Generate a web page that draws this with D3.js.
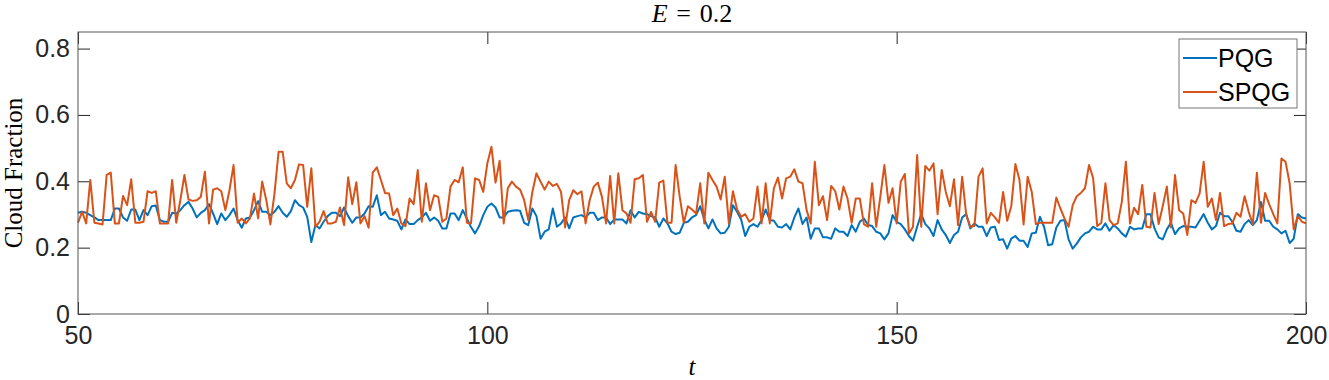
<!DOCTYPE html>
<html>
<head>
<meta charset="utf-8">
<script src="https://cdn.jsdelivr.net/npm/d3@7"></script>
<style>
  body { margin: 0; background: #fff; }
  svg { display: block; }
  .tick text { font-family: "Liberation Sans", Arial, sans-serif; font-size: 25px; fill: #262626; }
  .tick line { stroke: #262626; stroke-width: 1; }
</style>
</head>
<body>
<script>
var width = 1329,
    height = 380;

var margin = {top: 32, right: 23, bottom: 66, left: 78};

// time axis: t = 50, 50.5, ..., 200
var tStart = 50,
    tStep = 0.5;

var xTicks = [50, 100, 150, 200],
    yTicks = [0, 0.2, 0.4, 0.6, 0.8];

var seriesNames = ["PQG", "SPQG"],
    seriesColors = ["#0072BD", "#D95319"];

var pqg = [
  0.305,0.308,0.305,0.298,0.291,0.283,0.283,0.283,0.283,0.318,
  0.318,0.291,0.281,0.315,0.315,0.283,0.313,0.298,0.325,0.327,
  0.283,0.278,0.278,0.305,0.303,0.313,0.328,0.338,0.318,0.291,
  0.305,0.313,0.331,0.303,0.271,0.303,0.283,0.298,0.318,0.283,
  0.260,0.288,0.291,0.313,0.340,0.308,0.308,0.298,0.308,0.325,
  0.305,0.293,0.310,0.343,0.328,0.321,0.293,0.217,0.268,0.258,
  0.278,0.295,0.305,0.305,0.295,0.321,0.295,0.275,0.291,0.291,
  0.303,0.325,0.323,0.358,0.298,0.308,0.288,0.285,0.281,0.255,
  0.285,0.271,0.271,0.283,0.291,0.305,0.281,0.291,0.281,0.258,
  0.258,0.303,0.303,0.283,0.313,0.288,0.262,0.243,0.265,0.298,
  0.323,0.333,0.321,0.291,0.291,0.308,0.311,0.313,0.311,0.275,
  0.268,0.318,0.295,0.227,0.248,0.255,0.318,0.263,0.273,0.291,
  0.258,0.291,0.295,0.298,0.291,0.305,0.305,0.283,0.291,0.291,
  0.271,0.285,0.285,0.285,0.273,0.313,0.291,0.308,0.303,0.301,
  0.295,0.291,0.263,0.288,0.273,0.248,0.241,0.245,0.275,0.278,
  0.291,0.298,0.325,0.285,0.258,0.285,0.258,0.243,0.245,0.263,
  0.328,0.308,0.285,0.235,0.263,0.271,0.263,0.283,0.315,0.283,
  0.281,0.263,0.261,0.271,0.255,0.291,0.318,0.271,0.291,0.227,
  0.258,0.258,0.231,0.231,0.227,0.258,0.248,0.248,0.235,0.268,
  0.248,0.278,0.288,0.268,0.265,0.248,0.243,0.225,0.243,0.298,
  0.278,0.271,0.255,0.235,0.221,0.263,0.301,0.271,0.258,0.235,
  0.283,0.255,0.238,0.214,0.238,0.248,0.291,0.301,0.258,0.273,
  0.263,0.263,0.235,0.261,0.263,0.223,0.225,0.197,0.227,0.235,
  0.221,0.221,0.202,0.243,0.245,0.293,0.263,0.207,0.210,0.261,
  0.281,0.283,0.225,0.197,0.212,0.231,0.243,0.248,0.263,0.255,
  0.255,0.273,0.251,0.268,0.258,0.243,0.233,0.263,0.255,0.258,
  0.258,0.301,0.301,0.258,0.231,0.225,0.255,0.275,0.241,0.258,
  0.265,0.263,0.263,0.261,0.281,0.301,0.275,0.255,0.265,0.305,
  0.295,0.295,0.278,0.251,0.248,0.271,0.283,0.268,0.283,0.338,
  0.281,0.281,0.263,0.255,0.243,0.251,0.214,0.227,0.301,0.291,0.288
];

var spqg = [
  0.275,0.308,0.273,0.404,0.275,0.273,0.270,0.419,0.426,0.273,
  0.273,0.356,0.328,0.406,0.275,0.275,0.278,0.370,0.365,0.370,
  0.273,0.273,0.273,0.404,0.275,0.343,0.419,0.345,0.341,0.343,
  0.353,0.429,0.273,0.375,0.379,0.370,0.313,0.373,0.449,0.275,
  0.288,0.273,0.288,0.363,0.288,0.399,0.343,0.270,0.363,0.489,
  0.489,0.394,0.379,0.404,0.451,0.449,0.323,0.439,0.263,0.278,
  0.310,0.273,0.273,0.278,0.321,0.268,0.412,0.331,0.397,0.273,
  0.295,0.260,0.426,0.442,0.404,0.365,0.363,0.298,0.318,0.273,
  0.265,0.348,0.331,0.434,0.278,0.394,0.313,0.358,0.353,0.278,
  0.288,0.384,0.404,0.397,0.442,0.275,0.273,0.409,0.404,0.368,
  0.454,0.504,0.396,0.462,0.273,0.379,0.399,0.384,0.375,0.343,
  0.283,0.368,0.424,0.399,0.375,0.399,0.386,0.392,0.368,0.261,
  0.343,0.373,0.361,0.370,0.273,0.343,0.384,0.396,0.353,0.273,
  0.416,0.273,0.424,0.313,0.303,0.275,0.406,0.409,0.419,0.278,
  0.308,0.278,0.396,0.402,0.275,0.275,0.449,0.353,0.275,0.325,
  0.315,0.303,0.394,0.273,0.426,0.404,0.384,0.345,0.414,0.273,
  0.370,0.316,0.293,0.301,0.278,0.288,0.384,0.273,0.394,0.273,
  0.379,0.411,0.348,0.409,0.414,0.436,0.399,0.394,0.313,0.273,
  0.459,0.328,0.355,0.283,0.386,0.370,0.315,0.384,0.348,0.275,
  0.348,0.348,0.271,0.263,0.394,0.263,0.353,0.449,0.335,0.379,
  0.273,0.399,0.422,0.243,0.263,0.479,0.263,0.446,0.432,0.454,
  0.301,0.434,0.368,0.325,0.406,0.268,0.414,0.298,0.263,0.265,
  0.414,0.439,0.273,0.305,0.291,0.275,0.368,0.281,0.325,0.452,
  0.404,0.270,0.414,0.368,0.271,0.275,0.275,0.275,0.275,0.351,
  0.318,0.288,0.263,0.328,0.355,0.365,0.379,0.449,0.409,0.265,
  0.275,0.394,0.283,0.268,0.273,0.338,0.459,0.273,0.320,0.301,
  0.389,0.263,0.261,0.365,0.271,0.325,0.384,0.261,0.419,0.313,
  0.303,0.238,0.343,0.335,0.363,0.459,0.323,0.348,0.283,0.365,
  0.265,0.271,0.273,0.305,0.293,0.355,0.308,0.271,0.426,0.275,
  0.365,0.331,0.301,0.273,0.469,0.459,0.394,0.255,0.295,0.278,0.273
];

var series = [pqg, spqg];

var w = width - margin.left - margin.right,
    h = height - margin.top - margin.bottom;

var x = d3.scaleLinear().domain([50, 200]).range([0, w]);
var y = d3.scaleLinear().domain([0, 0.85]).range([h, 0]);

var svg = d3.select("body").append("svg")
    .attr("width", width)
    .attr("height", height);

var g = svg.append("g")
    .attr("transform", "translate(" + margin.left + "," + margin.top + ")");

// axes, ticks pointing inwards like matlab
var tickLen = 12;

g.append("g")
    .attr("transform", "translate(0," + h + ")")
    .call(d3.axisBottom(x).tickValues(xTicks).tickSizeInner(-tickLen).tickSizeOuter(0).tickPadding(12))
    .call(function(a) { a.select(".domain").remove(); });

g.append("g")
    .call(d3.axisTop(x).tickValues(xTicks).tickSizeInner(-tickLen).tickSizeOuter(0).tickFormat(""))
    .call(function(a) { a.select(".domain").remove(); });

g.append("g")
    .call(d3.axisLeft(y).tickValues(yTicks).tickSizeInner(-tickLen).tickSizeOuter(0).tickPadding(8)
      .tickFormat(function(d) { return String(d); }))
    .call(function(a) { a.select(".domain").remove(); });

g.append("g")
    .attr("transform", "translate(" + w + ",0)")
    .call(d3.axisRight(y).tickValues(yTicks).tickSizeInner(-tickLen).tickSizeOuter(0).tickFormat(""))
    .call(function(a) { a.select(".domain").remove(); });

var line = d3.line()
    .x(function(d, i) { return x(tStart + i * tStep); })
    .y(function(d) { return y(d); });

g.selectAll("path.series")
    .data(series)
  .enter().append("path")
    .attr("class", "series")
    .attr("d", line)
    .attr("fill", "none")
    .attr("stroke", function(d, i) { return seriesColors[i]; })
    .attr("stroke-width", 2)
    .attr("stroke-linejoin", "round");

// box
g.append("rect")
    .attr("width", w)
    .attr("height", h)
    .attr("fill", "none")
    .attr("stroke", "#555")
    .attr("stroke-width", 1);

// legend
var legend = g.append("g")
    .attr("transform", "translate(" + (1179 - margin.left) + "," + (39 - margin.top) + ")");

legend.append("rect")
    .attr("width", 118)
    .attr("height", 69)
    .attr("fill", "#fff")
    .attr("stroke", "#777")
    .attr("stroke-width", 1);

var item = legend.selectAll("g.item")
    .data(seriesNames)
  .enter().append("g")
    .attr("class", "item")
    .attr("transform", function(d, i) { return "translate(0," + (19 + i * 34) + ")"; });

item.append("line")
    .attr("x1", 4)
    .attr("x2", 38)
    .attr("stroke", function(d, i) { return seriesColors[i]; })
    .attr("stroke-width", 2);

item.append("text")
    .attr("x", 39)
    .attr("dy", "0.36em")
    .style("font-family", "Liberation Sans, Arial, sans-serif")
    .style("font-size", "25px")
    .style("fill", "#000")
    .text(function(d) { return d; });

// title and labels (latex style)
var title = svg.append("text")
    .attr("x", margin.left + w / 2)
    .attr("y", 22)
    .attr("text-anchor", "middle")
    .style("font-family", "Liberation Serif, Times New Roman, serif")
    .style("font-size", "26px")
    .style("fill", "#000");
title.append("tspan").style("font-style", "italic").text("E");
title.append("tspan").text("\u2004=\u20040.2");

svg.append("text")
    .attr("x", margin.left + w / 2)
    .attr("y", 375)
    .attr("text-anchor", "middle")
    .style("font-family", "Liberation Serif, Times New Roman, serif")
    .style("font-style", "italic")
    .style("font-size", "25px")
    .text("t");

svg.append("text")
    .attr("transform", "translate(22," + (margin.top + h / 2) + ")rotate(-90)")
    .attr("text-anchor", "middle")
    .style("font-family", "Liberation Serif, Times New Roman, serif")
    .style("font-size", "25px")
    .text("Cloud Fraction");
</script>
</body>
</html>
